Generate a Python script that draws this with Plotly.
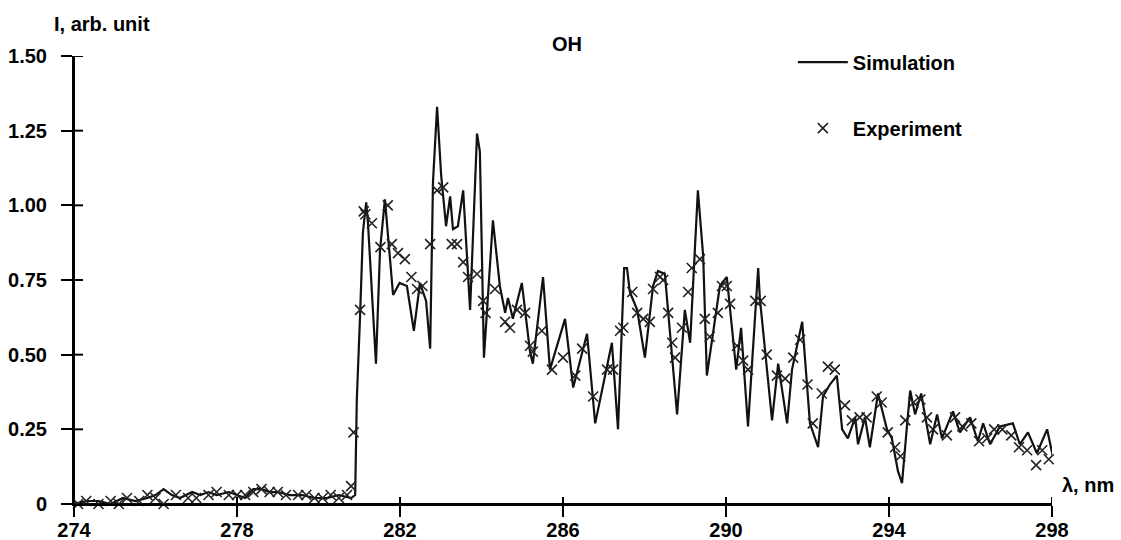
import plotly.graph_objects as go

# Simulation spectrum (wavelength nm, intensity arb. unit)
sim_wl = [274.0, 274.3, 274.6, 274.9, 275.2, 275.5, 275.8, 276.0, 276.2, 276.4, 276.6, 276.9,
          277.1, 277.3, 277.5, 277.8, 278.0, 278.2, 278.4, 278.6, 278.8, 279.0, 279.3, 279.6,
          279.9, 280.2, 280.5, 280.8, 280.9,
          280.94, 281.02, 281.09, 281.17, 281.21, 281.41, 281.51, 281.63, 281.75, 281.83, 281.99,
          282.17, 282.34, 282.49, 282.64, 282.74, 282.81, 282.91, 283.01, 283.13, 283.23, 283.30,
          283.42, 283.55, 283.72, 283.89, 283.96, 284.06, 284.28, 284.45, 284.58, 284.65, 284.77,
          284.99, 285.19, 285.26, 285.51, 285.68, 286.05, 286.25, 286.59, 286.79, 287.20, 287.35,
          287.50, 287.57, 287.64, 287.82, 288.01, 288.21, 288.33, 288.50, 288.80, 288.99, 289.12,
          289.31, 289.44, 289.53, 289.85, 290.02, 290.25, 290.37, 290.54, 290.79, 290.83, 291.01,
          291.13, 291.28, 291.50, 291.62, 291.87, 292.06, 292.26, 292.38, 292.55, 292.72, 292.85,
          292.99, 293.17, 293.24, 293.41, 293.53, 293.73, 293.95, 294.07, 294.22, 294.32, 294.44,
          294.52, 294.64, 294.79, 294.88, 295.01, 295.18, 295.30, 295.57, 295.74, 295.99, 296.18,
          296.31, 296.48, 296.72, 297.04, 297.21, 297.41, 297.63, 297.88, 298.02]
sim_int = [0.00, 0.01, 0.01, 0.00, 0.02, 0.01, 0.02, 0.03, 0.05, 0.03, 0.02, 0.04,
           0.03, 0.04, 0.03, 0.04, 0.03, 0.02, 0.05, 0.05, 0.04, 0.04, 0.03, 0.03,
           0.02, 0.02, 0.03, 0.02, 0.03,
           0.35, 0.63, 0.91, 1.01, 0.95, 0.47, 0.85, 1.02, 0.82, 0.70, 0.74,
           0.73, 0.58, 0.74, 0.68, 0.52, 1.08, 1.33, 1.10, 0.93, 1.03, 0.92,
           0.93, 1.05, 0.65, 1.24, 1.18, 0.49, 0.95, 0.73, 0.64, 0.69, 0.62,
           0.74, 0.51, 0.47, 0.76, 0.45, 0.62, 0.39, 0.57, 0.27, 0.54, 0.25,
           0.79, 0.79, 0.71, 0.65, 0.49, 0.73, 0.78, 0.77, 0.30, 0.65, 0.54,
           1.05, 0.83, 0.43, 0.73, 0.76, 0.45, 0.59, 0.26, 0.79, 0.69, 0.45,
           0.28, 0.47, 0.27, 0.45, 0.61, 0.27, 0.19, 0.36, 0.40, 0.43, 0.25,
           0.22, 0.29, 0.20, 0.29, 0.19, 0.37, 0.25, 0.22, 0.11, 0.07, 0.26,
           0.38, 0.30, 0.37, 0.30, 0.20, 0.30, 0.22, 0.31, 0.24, 0.29, 0.21,
           0.27, 0.20, 0.26, 0.27, 0.20, 0.24, 0.17, 0.25, 0.16]

# Experimental points
exp_wl = [274.1, 274.3, 274.6, 274.9, 275.1, 275.3, 275.6, 275.8, 276.0, 276.2, 276.5, 276.8,
          277.0, 277.3, 277.5, 277.8, 278.0, 278.2, 278.4, 278.6, 278.8, 279.0, 279.2, 279.5,
          279.7, 279.9, 280.1, 280.3, 280.5, 280.7, 280.80, 280.86,
          281.02, 281.11, 281.15, 281.31, 281.52, 281.70, 281.80, 281.95, 282.12, 282.28, 282.42,
          282.55, 282.74, 282.91, 283.06, 283.27, 283.40, 283.55, 283.67, 283.89, 284.04, 284.10,
          284.33, 284.58, 284.70, 284.87, 285.07, 285.19, 285.26, 285.48, 285.73, 286.00, 286.30,
          286.47, 286.74, 287.08, 287.23, 287.40, 287.48, 287.70, 287.82, 287.97, 288.13, 288.21,
          288.38, 288.46, 288.58, 288.68, 288.75, 288.92, 289.07, 289.16, 289.36, 289.48, 289.60,
          289.80, 289.90, 290.02, 290.10, 290.27, 290.42, 290.54, 290.72, 290.85, 291.00, 291.25,
          291.45, 291.65, 291.82, 292.00, 292.13, 292.35, 292.50, 292.67, 292.92, 293.09, 293.28,
          293.45, 293.70, 293.82, 293.97, 294.15, 294.28, 294.40, 294.60, 294.77, 294.93, 295.08,
          295.42, 295.62, 295.80, 296.02, 296.21, 296.41, 296.58, 296.78, 297.00, 297.19, 297.39,
          297.61, 297.76, 297.92]
exp_int = [0.00, 0.01, 0.00, 0.01, 0.00, 0.02, 0.01, 0.03, 0.02, 0.00, 0.03, 0.02,
           0.02, 0.03, 0.04, 0.03, 0.03, 0.03, 0.04, 0.05, 0.04, 0.04, 0.03, 0.03,
           0.03, 0.02, 0.02, 0.03, 0.02, 0.03, 0.06, 0.24,
           0.65, 0.98, 0.97, 0.94, 0.86, 1.00, 0.87, 0.84, 0.82, 0.76, 0.72,
           0.73, 0.87, 1.05, 1.06, 0.87, 0.87, 0.81, 0.76, 0.77, 0.68, 0.64,
           0.72, 0.61, 0.59, 0.65, 0.64, 0.53, 0.51, 0.58, 0.45, 0.49, 0.43,
           0.52, 0.36, 0.45, 0.45, 0.58, 0.59, 0.71, 0.64, 0.62, 0.61, 0.72,
           0.76, 0.75, 0.64, 0.54, 0.49, 0.59, 0.71, 0.79, 0.82, 0.62, 0.56,
           0.64, 0.73, 0.73, 0.67, 0.53, 0.48, 0.45, 0.68, 0.68, 0.50, 0.43,
           0.42, 0.49, 0.55, 0.40, 0.27, 0.37, 0.46, 0.45, 0.33, 0.28, 0.29,
           0.29, 0.36, 0.34, 0.24, 0.19, 0.16, 0.28, 0.34, 0.35, 0.29, 0.25,
           0.23, 0.29, 0.26, 0.27, 0.21, 0.22, 0.25, 0.25, 0.23, 0.19, 0.18,
           0.13, 0.18, 0.15]

# axis ranges and tick positions
X_RANGE = [274, 298]
Y_RANGE = [0, 1.5]
x_major = [274, 278, 282, 286, 290, 294, 298]
x_minor = [round(274 + 0.4 * k, 2) for k in range(61) if k % 10 != 0]
y_major = [0, 0.25, 0.5, 0.75, 1.0, 1.25, 1.5]

y_minor = [round(0.05 * k, 2) for k in range(31) if k % 5 != 0]

W, H = 1121, 540
M = dict(l=74, r=69, t=56, b=36)
FONT = "Liberation Sans, Arial, sans-serif"
fs = 20
tickfont = dict(family=FONT, size=fs, color="black", weight="bold")

# pixel -> data unit conversion for tick lengths (axis frame drawn as a trace)
px_x = (X_RANGE[1] - X_RANGE[0]) / (W - M["l"] - M["r"])
px_y = (Y_RANGE[1] - Y_RANGE[0]) / (H - M["t"] - M["b"])
fx, fy = [], []
fx += [X_RANGE[0], X_RANGE[1], None]; fy += [0, 0, None]
fx += [X_RANGE[0], X_RANGE[0], None]; fy += [Y_RANGE[0], Y_RANGE[1], None]
for v in x_major:
    fx += [v, v, None]; fy += [-11 * px_y, 7 * px_y, None]
for v in x_minor:
    fx += [v, v, None]; fy += [-8 * px_y, 0, None]
for v in y_major:
    fx += [X_RANGE[0] - 11 * px_x, X_RANGE[0] + 9 * px_x, None]; fy += [v, v, None]
for v in y_minor:
    fx += [X_RANGE[0] - 10 * px_x, X_RANGE[0], None]; fy += [v, v, None]

fig = go.Figure()
fig.add_trace(go.Scatter(x=fx, y=fy, mode="lines", showlegend=False, hoverinfo="skip",
                         line=dict(color="black", width=2), cliponaxis=False))
fig.add_trace(go.Scatter(x=sim_wl, y=sim_int, mode="lines", name="<b>Simulation</b>",
                         line=dict(color="#111111", width=2.2), legendgroup="a"))
fig.add_trace(go.Scatter(x=exp_wl, y=exp_int, mode="markers", name="<b>Experiment</b>",
                         marker=dict(symbol="x-thin-open", size=10, color="#222222",
                                     line=dict(width=1.6, color="#222222")),
                         cliponaxis=False, legendgroup="b"))

fig.update_layout(
    template="none",
    width=W, height=H,
    margin=M,
    paper_bgcolor="white", plot_bgcolor="white",
    font=dict(family=FONT, size=fs, color="black"),
    showlegend=True,
    legend=dict(x=0.735, y=1.03, xanchor="left", yanchor="top",
                bgcolor="rgba(0,0,0,0)", tracegroupgap=37, itemwidth=50,
                font=dict(size=fs)),
    xaxis=dict(range=X_RANGE, showline=True, linecolor="black", linewidth=2,
               showgrid=False, zeroline=False,
               tickmode="array", tickvals=x_major, tickformat="d",
               tickfont=tickfont,
               ticks="outside", ticklen=11, tickwidth=2, tickcolor="black",
               ticklabelstandoff=-4),
    yaxis=dict(range=Y_RANGE, showline=True, linecolor="black", linewidth=2,
               showgrid=False, zeroline=False,
               tickmode="array", tickvals=y_major, tickformat=".2f",
               labelalias={"0.00": "0"},
               tickfont=tickfont,
               ticks="outside", ticklen=11, tickwidth=2, tickcolor="black",
               ticklabelstandoff=10),
    annotations=[
        dict(text="<b>OH</b>", xref="paper", yref="paper", x=0.504, y=1.0,
             xanchor="center", yanchor="middle", yshift=12, showarrow=False,
             font=dict(size=fs)),
        dict(text="<b>I, arb. unit</b>", xref="paper", yref="paper", x=0, y=1.0,
             xanchor="left", yanchor="middle", xshift=-22, yshift=32, showarrow=False,
             font=dict(size=fs)),
        dict(text="<b>λ, nm</b>", xref="paper", yref="y", x=1.0, y=0.064,
             xanchor="left", yanchor="middle", xshift=8, showarrow=False,
             font=dict(size=fs)),
    ],
)

fig.write_html("out.html")
